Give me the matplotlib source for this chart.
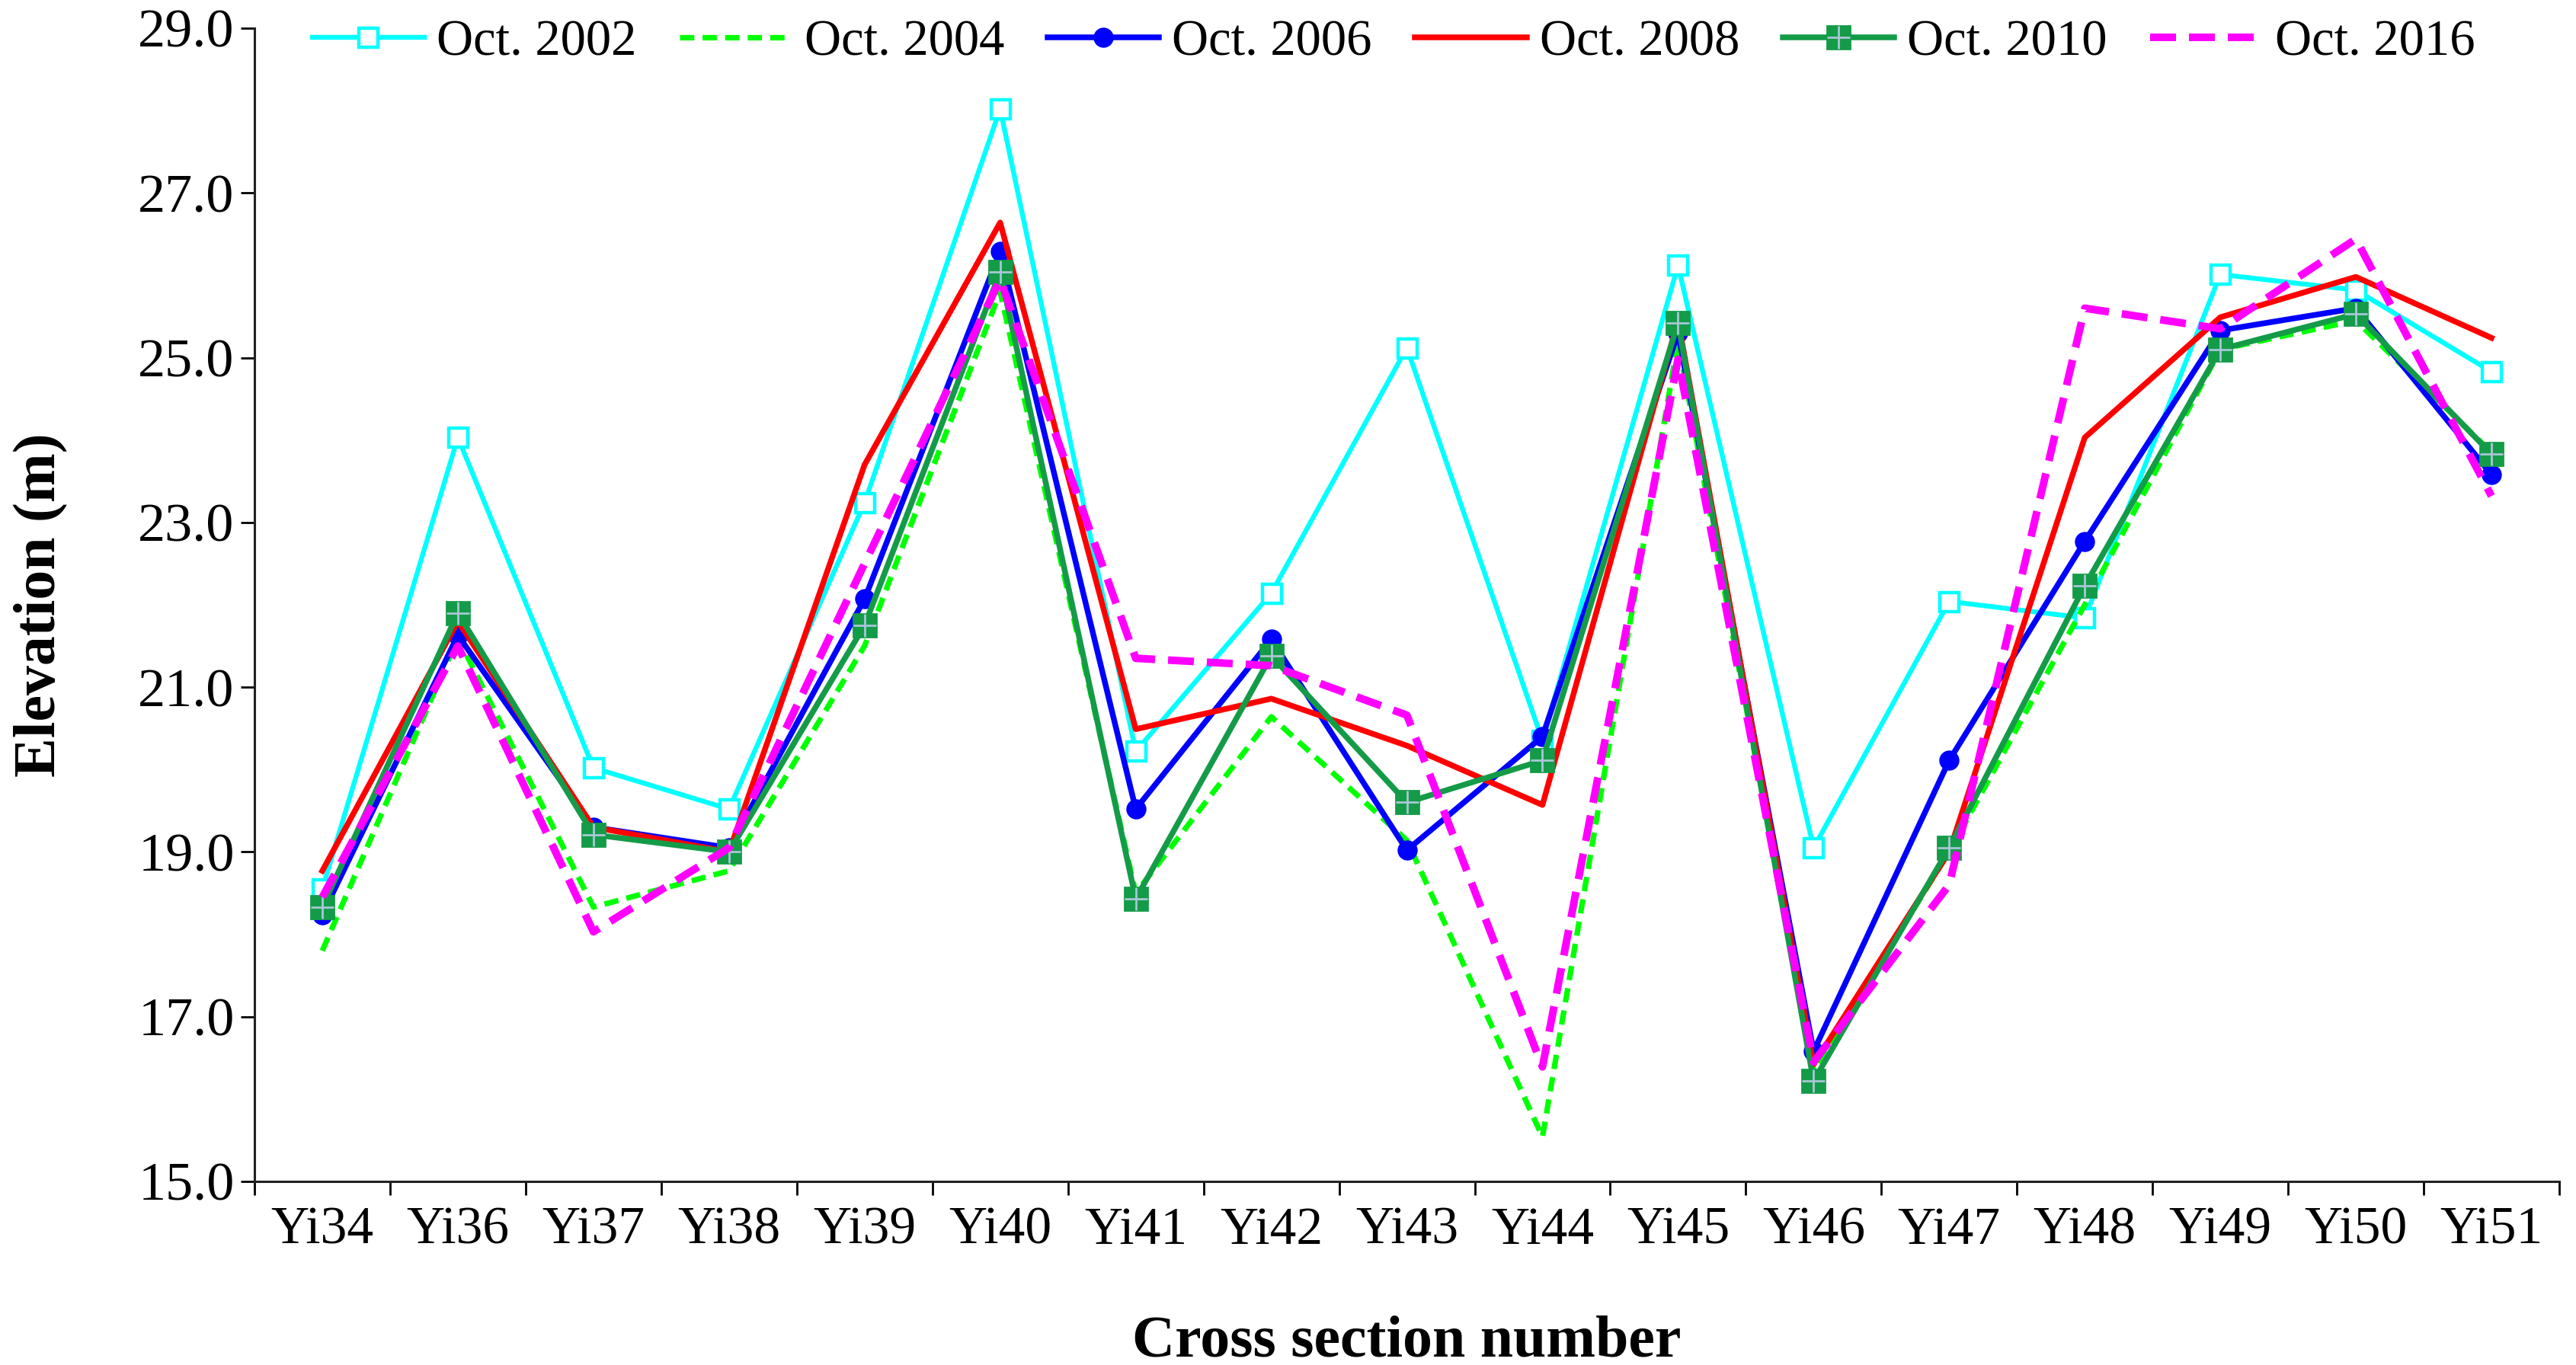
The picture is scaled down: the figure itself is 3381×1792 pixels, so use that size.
import numpy as np
import matplotlib
matplotlib.use("Agg")
import matplotlib.pyplot as plt

plt.rcParams['font.family'] = ['Liberation Serif', 'DejaVu Serif']

sections = ['Yi34', 'Yi36', 'Yi37', 'Yi38', 'Yi39', 'Yi40', 'Yi41', 'Yi42', 'Yi43',
            'Yi44', 'Yi45', 'Yi46', 'Yi47', 'Yi48', 'Yi49', 'Yi50', 'Yi51']

oct2002 = [18.55, 24.03, 20.02, 19.52, 23.24, 28.02, 20.22, 22.14, 25.12,
           20.35, 26.12, 19.05, 22.04, 21.84, 26.01, 25.82, 24.83]
oct2004 = [17.80, 21.60, 18.33, 18.77, 21.50, 25.80, 18.50, 20.64, 19.14,
           15.54, 25.20, 16.35, 19.00, 22.00, 25.10, 25.45, 23.85]
oct2006 = [18.24, 21.63, 19.30, 19.05, 22.07, 26.29, 19.52, 21.58, 19.02,
           20.40, 25.30, 16.58, 20.11, 22.77, 25.33, 25.60, 23.58]
oct2008 = [18.77, 21.80, 19.30, 19.00, 23.70, 26.64, 20.49, 20.86, 20.29,
           19.57, 25.45, 16.42, 19.00, 24.03, 25.49, 25.98, 25.24]
oct2010 = [18.33, 21.90, 19.21, 19.00, 21.75, 26.04, 18.43, 21.38, 19.60,
           20.11, 25.42, 16.22, 19.05, 22.23, 25.10, 25.53, 23.83]
oct2016 = [18.45, 21.50, 18.03, 19.05, 22.50, 25.95, 21.35, 21.26, 20.66,
           16.39, 24.98, 16.45, 18.60, 25.60, 25.35, 26.44, 23.32]

x = np.arange(len(sections))

fig = plt.figure(figsize=(16.905, 8.96), dpi=200)
ax = fig.add_axes([0.0988, 0.1345, 0.8947, 0.8449])

l1, = ax.plot(x, oct2002, color='#00FFFF', lw=2.3, marker='s', ms=9,
              mfc='white', mec='#00FFFF', mew=1.6, label='Oct. 2002')
l2, = ax.plot(x, oct2004, color='#00FF00', lw=2.6, dashes=(2.6, 1.5), label='Oct. 2004')
l3, = ax.plot(x, oct2006, color='#0000FF', lw=2.7, marker='o', ms=8.5, label='Oct. 2006')
l4, = ax.plot(x, oct2008, color='#FF0000', lw=2.7, label='Oct. 2008')
l5, = ax.plot(x, oct2010, color='#149B48', lw=2.7, marker='s', ms=11, label='Oct. 2010')
l5b, = ax.plot(x, oct2010, ls='none', marker='+', ms=11, mew=1.0, color='#A9C6D6')
l6, = ax.plot(x, oct2016, color='#FF00FF', lw=3.6, dashes=(3.4, 1.7), label='Oct. 2016')

ax.set_xlim(-0.5, len(sections) - 0.5)
ax.set_ylim(15, 29)
ax.set_yticks(np.arange(15, 29.1, 2))
ax.set_yticklabels([f'{v:.1f}' for v in np.arange(15, 29.1, 2)])
ax.set_xticks(np.arange(-0.5, len(sections), 1))
ax.set_xticklabels([])
ax.set_xticks(x, sections, minor=True)
ax.tick_params(axis='x', which='minor', length=0, pad=12, labelsize=25)
ax.tick_params(axis='x', which='major', length=6.5, width=1.0, direction='out')
ax.tick_params(axis='y', length=6.5, width=1.0, direction='out', pad=3, labelsize=26)

for s in ['top', 'right']:
    ax.spines[s].set_visible(False)
for s in ['left', 'bottom']:
    ax.spines[s].set_linewidth(1.1)
    ax.spines[s].set_color('#222222')

ax.set_ylabel('Elevation (m)', fontsize=28, fontweight='bold')
ax.set_xlabel('Cross section number', fontsize=28, fontweight='bold')
ax.yaxis.set_label_coords(-0.081, 0.5)
ax.xaxis.set_label_coords(0.5, -0.116)

fig.legend([l1, l2, l3, l4, (l5, l5b), l6],
           ['Oct. 2002', 'Oct. 2004', 'Oct. 2006', 'Oct. 2008', 'Oct. 2010', 'Oct. 2016'],
           loc='center', bbox_to_anchor=(0.541, 0.969), ncol=6, frameon=False,
           fontsize=24, handlelength=2.2, handletextpad=0.25, columnspacing=0.85)

fig.savefig('out.png', dpi=200)
